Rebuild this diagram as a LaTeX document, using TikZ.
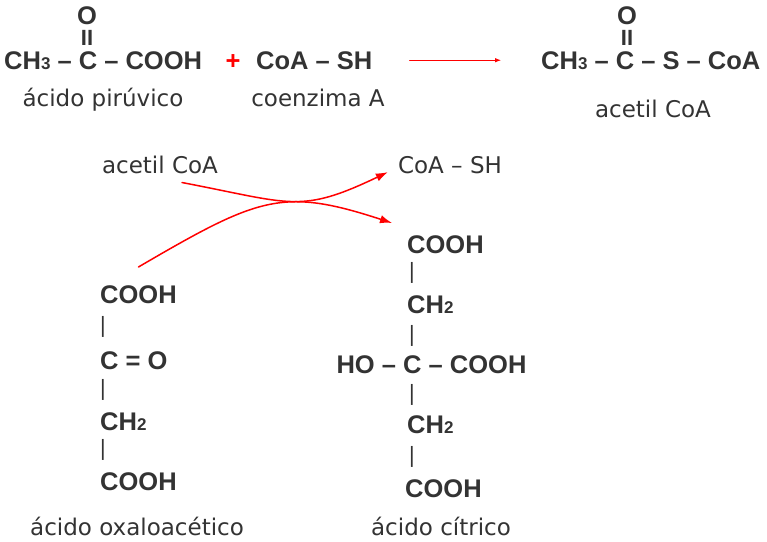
\documentclass[tikz,border=0pt]{standalone}
\usepackage{fontspec}
\setmainfont{DejaVu Sans}
\newfontfamily\formfont{Liberation Sans}
\usetikzlibrary{arrows.meta}
\definecolor{txt}{HTML}{333333}
\newcommand\chsub[1]{{\fontsize{17}{20}\selectfont#1}}
\begin{document}
\begin{tikzpicture}[x=1pt, y=-1pt, line join=round, line cap=round, >={Latex[length=12pt,width=8.5pt]},
	txtname/.style={inner sep=0pt, text=txt, font=\fontsize{23}{28}\selectfont},
	formula/.style={inner sep=0pt, text=txt, font=\formfont\bfseries\fontsize{25.5}{30}\selectfont},
	bond/.style={inner sep=0pt, text=txt, font=\fontsize{21}{24}\selectfont},
	dbond/.style={inner sep=0pt, text=txt, font=\formfont\bfseries\fontsize{22}{26}\selectfont},
	react/.style={red, line width=1.5pt}]
	\useasboundingbox (0,0) rectangle (767,541);
	% acido piruvico + coenzima A -> acetil CoA
	\node[formula, anchor=base west] (pir) at (4,69) {CH\chsub{3} – C – COOH};
	\node[formula, anchor=base] (pirO) at (87,24) {O};
	\node[dbond, anchor=base] (pirdb) at (87,45) {II};
	\node[formula, anchor=base, text=red] (plus) at (233,69) {+};
	\node[formula, anchor=base west] (coash) at (256,69) {CoA – SH};
	\node[txtname, anchor=base] (pirname) at (103,106) {ácido pirúvico};
	\node[txtname, anchor=base] (coaname) at (318,106) {coenzima A};
	\node[formula, anchor=base west] (acoa) at (541,69) {CH\chsub{3} – C – S – CoA};
	\node[formula, anchor=base] (acoaO) at (627,24) {O};
	\node[dbond, anchor=base] (acoadb) at (627,45) {II};
	\node[txtname, anchor=base] (acoaname) at (653,117) {acetil CoA};
	\draw[red, line width=0.8pt, -{Latex[length=6pt,width=4.5pt]}] ([xshift=37pt]coash.east) -- ([xshift=-40pt]acoa.west);
	% ciclo
	\node[txtname, anchor=base] (acoa2) at (160,173) {acetil CoA};
	\node[txtname, anchor=base] (coash2) at (450,173) {CoA – SH};
	% acido oxaloacetico
	\node[formula, anchor=base west] (oxa1) at (100,303) {COOH};
	\node[formula, anchor=base west] (oxa2) at (100,369) {C = O};
	\node[formula, anchor=base west] (oxa3) at (100,430) {CH\chsub{2}};
	\node[formula, anchor=base west] (oxa4) at (100,490) {COOH};
	\foreach \y [count=\i] in {327,390,450}
		\node[bond] (oxab\i) at (103,\y) {|};
	\node[txtname, anchor=base] (oxaname) at (137,535) {ácido oxaloacético};
	% acido citrico
	\node[formula, anchor=base west] (cit1) at (407,253) {COOH};
	\node[formula, anchor=base west] (cit2) at (407,313) {CH\chsub{2}};
	\node[formula, anchor=base] (cit3) at (431.5,373) {HO – C – COOH};
	\node[formula, anchor=base west] (cit4) at (407,433) {CH\chsub{2}};
	\node[formula, anchor=base west] (cit5) at (405,497) {COOH};
	\foreach \y [count=\i] in {273,336,395,457}
		\node[bond] (citb\i) at (412,\y) {|};
	\node[txtname, anchor=base] (citname) at (441,535) {ácido cítrico};
	\draw[react, ->] ([shift={(22,9)}]acoa2.south) .. controls +(110,21) and +(-88,42) .. ([shift={(-10,7.5)}]coash2.west);
	\draw[react, ->] ([shift={(0,-18)}]oxa1.north) .. controls +(120,-70) and +(-110,-36) .. ([shift={(-15,-12)}]cit1.north west);
\end{tikzpicture}
\end{document}
